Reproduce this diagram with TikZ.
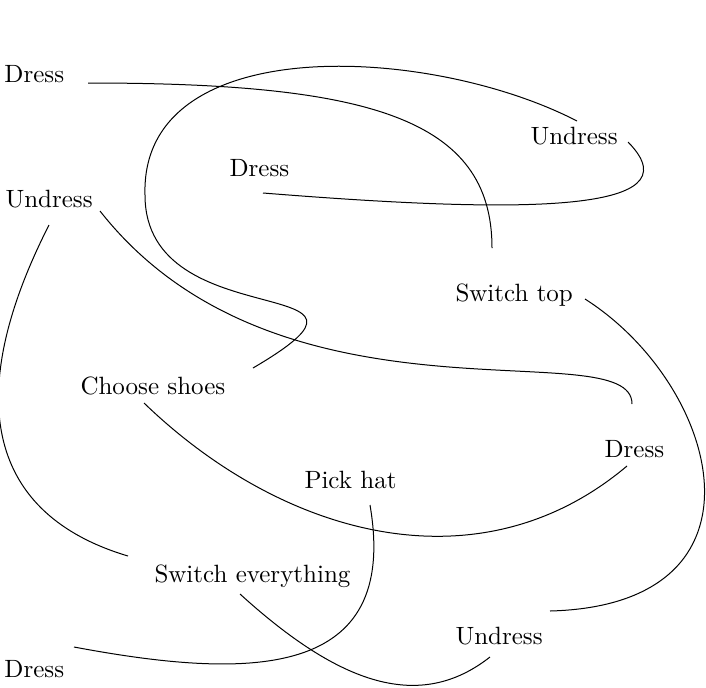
\documentclass[tikz,border=0pt]{standalone}
\usepackage{tikz}
\usetikzlibrary{calc}
\tikzset{
    word/.style={
        anchor=base west,
        inner sep=0pt,
    },
    link/.style={
        draw=black,
        line width=0.4pt,
    },
}
\begin{document}
\begin{tikzpicture}[x=0.4pt,y=-0.4pt]
      \useasboundingbox (0,0) rectangle (706,687);

      \node [word] (d1) at (4,82) {Dress};
      \node [word] (u1) at (530,144) {Undress};
      \node [word] (d2) at (229,176) {Dress};
      \node [word] (u2) at (5,207) {Undress};
      \node [word] (st) at (455,301) {Switch top};
      \node [word] (cs) at (80,394) {Choose shoes};
      \node [word] (d3) at (604,457) {Dress};
      \node [word] (ph) at (304,488) {Pick hat};
      \node [word] (se) at (154,582) {Switch everything};
      \node [word] (u3) at (455,644) {Undress};
      \node [word] (d4) at (4,677) {Dress};
      \coordinate (turn) at (145,195);

      \draw[link] ([shift={(84,1)}]d1.base west) .. controls +(280,0) and +(0,-130) .. ([shift={(37,-53)}]st.base west);
      \draw[link] ([shift={(47,-23)}]u1.base west) .. controls +(-147,-76) and +(-5,-165) .. (turn)
                  .. controls +(0,145) and +(167,-98) .. ([shift={(173,-26)}]cs.base west);
      \draw[link] ([shift={(34,17)}]d2.base west) .. controls +(250,20) and +(72,73) .. ([shift={(98,-2)}]u1.base west);
      \draw[link] ([shift={(95,4)}]u2.base west) .. controls +(180,229) and +(0,-74) .. ([shift={(28,-53)}]d3.base west);
      \draw[link] ([shift={(44,18)}]u2.base west) .. controls +(-89,175) and +(-138,-41) .. ([shift={(-26,-26)}]se.base west);
      \draw[link] ([shift={(130,-2)}]st.base west) .. controls +(135,86) and +(230,-6) .. ([shift={(95,-33)}]u3.base west);
      \draw[link] ([shift={(64,9)}]cs.base west) .. controls +(140,135) and +(-147,124) .. ([shift={(23,9)}]d3.base west);
      \draw[link] ([shift={(66,17)}]ph.base west) .. controls +(30,175) and +(176,33) .. ([shift={(70,-30)}]d4.base west);
      \draw[link] ([shift={(86,12)}]se.base west) .. controls +(100,91) and +(-70,55) .. ([shift={(35,13)}]u3.base west);
\end{tikzpicture}
\end{document}
